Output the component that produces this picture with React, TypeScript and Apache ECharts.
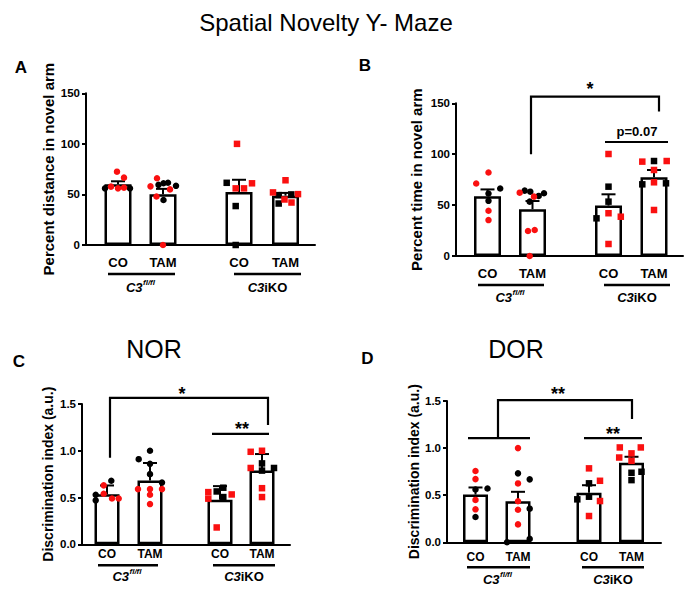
import { useEffect, useRef } from "react";
import * as echarts from "echarts";

const FONT = "'Liberation Sans', Arial, Helvetica, sans-serif";
const RED = "#fa1010";
const INK = "#000000";

const groupNames = ["CO", "TAM", "CO", "TAM"];

// A: percent distance travelled in the novel arm (mean, SEM, individual animals)
const distMean = [60, 50.3, 52.3, 48.8];
const distSem = [3, 5.2, 12.2, 2.7];
const distRed = [[72.5, 66.6, 57.7, 56, 56.7], [66, 58, 55, 48, 0], [100, 56, 56, 61], [64, 52, 50.3, 45, 42]];
const distBlack = [[56, 56], [59.5, 61, 61.5, 58.5, 44.5], [61.5, 38.5, 0], [49.3, 50, 41]];

// B: percent time spent in the novel arm
const timeMean = [58.8, 46, 49.5, 77.3];
const timeSem = [6.6, 8, 11.1, 7.2];
const timeRed = [[82, 71.2, 44.4, 35.3], [62.2, 58.3, 24.6, 25.5, 0], [100.2, 42, 38.6, 11.8], [92.7, 93.3, 84.5, 72.4, 45.2]];
const timeBlack = [[66.3, 61.4, 54.2], [64.2, 63.2, 59, 61.6, 53.4], [68.1, 53.4, 37], [93.3, 70.4, 71.4]];

// C: novel object recognition, discrimination index
const norMean = [0.534, 0.682, 0.477, 0.79];
const norSem = [0.095, 0.187, 0.145, 0.175];
const norRed = [[0.63, 0.54, 0.49, 0.49], [0.59, 0.59, 0.59, 0.53, 0.43], [0.558, 0.533, 0.488, 0.18], [0.989, 1.0, 0.816, 0.6, 0.505]];
const norBlack = [[0.68, 0.53, 0.47], [1.0, 0.91, 0.86, 0.75, 0.66], [0.565, 0.605, 0.505], [0.865, 0.788, 0.816]];

// D: displaced object recognition, discrimination index
const dorMean = [0.507, 0.436, 0.526, 0.845];
const dorSem = [0.075, 0.1, 0.08, 0.063];
const dorRed = [[0.757, 0.671, 0.45, 0.35], [1.0, 0.625, 0.436, 0.346, 0.19], [0.785, 0.653, 0.438, 0.279], [1.007, 1.007, 0.944, 0.9, 0.865]];
const dorBlack = [[0.56, 0.571, 0.268], [0.732, 0.668, 0.357, 0, 0.036], [0.626, 0.456, 0.484], [0.738, 0.66, 0.749]];

// horizontal scatter of the dots around each bar centre, in pixels
const distRedDx = [[-1, 6, -7, 0, 6], [-6, -12.5, 7, -6.5, 0], [-2, -3.3, 5, 13], [0, -12.5, 12.5, -1, 6]];
const distBlackDx = [[-13, 12], [-4.5, 0.5, 5, 13, 0.5], [-12.3, -3.3, -3.3], [-6.8, 5.8, -6.8]];
const timeRedDx = [[1, -11.3, 1, 1], [-12.8, 1.5, -4.5, 2.2, -2.8], [0, 0, 12.3, 0], [-11.7, 12.7, 0, 0, 0]];
const timeBlackDx = [[12.7, 1, 1], [-7.8, -2.2, 6.2, 11.5, -2.8], [0, 0, -12], [0, -11.7, 12]];
const norRedDx = [[-3.3, -3.3, 5, 11.7], [-12, 0, 12, 0, 0], [-11.7, 11.7, -11.7, -3.3], [-11.3, 0, -11.3, 0, 0]];
const norBlackDx = [[4.3, -11.3, -11.3], [0, -11.3, 0, 0, 12], [-3.3, 3.3, 3.3], [0, 0, 12]];
const dorRedDx = [[0, 0, 0, 0], [0, 0, 0, 0, 0], [0, 11, 11, 0], [-11.7, 9.3, 0, -12.3, 0]];
const dorBlackDx = [[0, 12, 0], [0, 11.7, 11.7, -11, 11.7], [0, -11.7, 0], [0, 0, 10]];

type Mark =
  | { kind: "line"; pts: [number, number][] }
  | { kind: "text"; x: number; y: number; text: string; size: number };

type Panel = {
  grid: { left: number; top: number; width: number; height: number };
  xMax: number;
  xs: number[];
  barW: number;
  yMax: number;
  yStep: number;
  dec: number;
  yName: string;
  nameGap: number;
  nameSize: number;
  tickSize: number;
  labSize: number;
  mean: number[];
  sem: number[];
  red: number[][];
  black: number[][];
  redDx: number[][];
  blackDx: number[][];
  labDy: number;
  lineDy: number;
  genoDy: number;
  spans: [number, number][];
  marks: Mark[];
};

const panels: Panel[] = [
  {
    grid: { left: 86, top: 93.3, width: 229, height: 151.7 },
    xMax: 229, xs: [32, 77, 153, 199.5], barW: 27,
    yMax: 150, yStep: 50, dec: 0,
    yName: "Percent distance in novel arm", nameGap: 30, nameSize: 15, tickSize: 11.5, labSize: 13,
    mean: distMean, sem: distSem, red: distRed, black: distBlack, redDx: distRedDx, blackDx: distBlackDx,
    labDy: 17, lineDy: 29, genoDy: 42,
    spans: [[22, 89], [148, 215]],
    marks: [],
  },
  {
    grid: { left: 456, top: 103.3, width: 227, height: 152.7 },
    xMax: 227, xs: [31.5, 76.5, 152.5, 198], barW: 27,
    yMax: 150, yStep: 50, dec: 0,
    yName: "Percent time in novel arm", nameGap: 32, nameSize: 15, tickSize: 11.5, labSize: 13,
    mean: timeMean, sem: timeSem, red: timeRed, black: timeBlack, redDx: timeRedDx, blackDx: timeBlackDx,
    labDy: 17, lineDy: 29, genoDy: 41,
    spans: [[22, 88], [148, 214]],
    marks: [
      { kind: "line", pts: [[75, 100], [75, 156.5], [203, 156.5], [203, 142]] },
      { kind: "text", x: 134, y: 164, text: "*", size: 18 },
      { kind: "line", pts: [[149, 112], [212, 112]] },
      { kind: "text", x: 181, y: 122.7, text: "p=0.07", size: 13 },
    ],
  },
  {
    grid: { left: 82, top: 404, width: 208, height: 140.3 },
    xMax: 208, xs: [25, 68, 138, 180], barW: 25,
    yMax: 1.5, yStep: 0.5, dec: 1,
    yName: "Discrimination index (a.u.)", nameGap: 27, nameSize: 14, tickSize: 11.5, labSize: 12,
    mean: norMean, sem: norSem, red: norRed, black: norBlack, redDx: norRedDx, blackDx: norBlackDx,
    labDy: 10, lineDy: 21, genoDy: 32,
    spans: [[16, 76], [131, 193]],
    marks: [
      { kind: "line", pts: [[28, 0.926], [28, 1.565], [186, 1.565], [186, 1.276]] },
      { kind: "text", x: 100, y: 1.607, text: "*", size: 18 },
      { kind: "line", pts: [[130, 1.18], [187, 1.18]] },
      { kind: "text", x: 160, y: 1.233, text: "**", size: 18 },
    ],
  },
  {
    grid: { left: 447, top: 401, width: 214, height: 141.3 },
    xMax: 214, xs: [28.5, 71, 142, 184.5], barW: 25,
    yMax: 1.5, yStep: 0.5, dec: 1,
    yName: "Discrimination index (a.u.)", nameGap: 24, nameSize: 14, tickSize: 11.5, labSize: 12,
    mean: dorMean, sem: dorSem, red: dorRed, black: dorBlack, redDx: dorRedDx, blackDx: dorBlackDx,
    labDy: 15, lineDy: 25, genoDy: 37,
    spans: [[20, 83], [135, 197]],
    marks: [
      { kind: "line", pts: [[21, 1.106], [83, 1.106]] },
      { kind: "line", pts: [[51, 1.106], [51, 1.509], [185, 1.509], [185, 1.31]] },
      { kind: "text", x: 111, y: 1.573, text: "**", size: 18 },
      { kind: "line", pts: [[137, 1.106], [195, 1.106]] },
      { kind: "text", x: 166, y: 1.148, text: "**", size: 18 },
    ],
  },
];

const txt = (x: number, y: number, text: string, font: string, align = "center", vAlign = "middle") => ({
  type: "text",
  style: { text, x, y, font, fill: INK, align, verticalAlign: vAlign, textAlign: align, textVerticalAlign: vAlign },
  silent: true,
});

const annotate = (p: Panel) => (_params: any, api: any) => {
  const at = (x: number, y: number) => api.coord([x, y]);
  const base = at(0, 0)[1];
  const children: any[] = [];
  const poly = (pts: number[][], w: number) => ({
    type: "polyline",
    shape: { points: pts },
    style: { stroke: INK, lineWidth: w, fill: null },
    silent: true,
  });
  p.xs.forEach((x, i) => {
    children.push(txt(at(x, 0)[0], base + p.labDy, groupNames[i], `bold ${p.labSize}px ${FONT}`));
  });
  p.spans.forEach(([a, b], i) => {
    const xa = at(a, 0)[0];
    const xb = at(b, 0)[0];
    const ly = base + p.lineDy;
    children.push(poly([[xa, ly], [xb, ly]], 2.5));
    const cx = (xa + xb) / 2;
    const gy = base + p.genoDy;
    if (i === 0) {
      children.push(txt(cx + 1, gy, "C3", `italic bold 13px ${FONT}`, "right"));
      children.push(txt(cx + 1.5, gy - 5, "fl/fl", `italic bold 8px ${FONT}`, "left"));
    } else {
      children.push({
        type: "text",
        silent: true,
        style: {
          text: "{i|C3}{n|iKO}",
          x: cx,
          y: gy,
          align: "center",
          verticalAlign: "middle",
          textAlign: "center",
          textVerticalAlign: "middle",
          fill: INK,
          rich: {
            i: { fontStyle: "italic", fontWeight: "bold", fontSize: 13, fontFamily: FONT, fill: INK, color: INK },
            n: { fontWeight: "bold", fontSize: 13, fontFamily: FONT, fill: INK, color: INK },
          },
        },
      });
    }
  });
  p.marks.forEach((m) => {
    if (m.kind === "line") {
      children.push(poly(m.pts.map(([x, y]) => at(x, y)), 2.2));
    } else {
      const c = at(m.x, m.y);
      children.push(txt(c[0], c[1], m.text, `bold ${m.size}px ${FONT}`));
    }
  });
  return { type: "group", children };
};

const errorBars = () => (_params: any, api: any) => {
  const x = api.value(0);
  const m = api.value(1);
  const s = api.value(2);
  const b = api.coord([x, m]);
  const t = api.coord([x, m + s]);
  return {
    type: "group",
    children: [
      { type: "line", shape: { x1: b[0], y1: b[1], x2: t[0], y2: t[1] }, style: { stroke: INK, lineWidth: 2 } },
      { type: "line", shape: { x1: t[0] - 7, y1: t[1], x2: t[0] + 7, y2: t[1] }, style: { stroke: INK, lineWidth: 2 } },
    ],
  };
};

function buildOption() {
  const series: any[] = [];
  panels.forEach((p, i) => {
    series.push({
      type: "bar",
      xAxisIndex: i,
      yAxisIndex: i,
      barWidth: p.barW,
      data: p.mean.map((m, g) => [p.xs[g], m]),
      itemStyle: { color: "#ffffff", borderColor: INK, borderWidth: 2.5 },
      silent: true,
      z: 2,
    });
    series.push({
      type: "custom",
      xAxisIndex: i,
      yAxisIndex: i,
      renderItem: errorBars(),
      data: p.mean.map((m, g) => [p.xs[g], m, p.sem[g]]),
      silent: true,
      z: 3,
    });
    const dots: any[] = [];
    p.mean.forEach((_m, g) => {
      const symbol = g < 2 ? "circle" : "rect";
      p.black[g].forEach((v, k) => {
        dots.push({ value: [p.xs[g] + p.blackDx[g][k], v], symbol, itemStyle: { color: INK, opacity: 1 } });
      });
      p.red[g].forEach((v, k) => {
        dots.push({ value: [p.xs[g] + p.redDx[g][k], v], symbol, itemStyle: { color: RED, opacity: 1 } });
      });
    });
    series.push({
      type: "scatter",
      xAxisIndex: i,
      yAxisIndex: i,
      symbolSize: 6.5,
      itemStyle: { opacity: 1 },
      data: dots,
      silent: true,
      z: 4,
    });
    series.push({
      type: "custom",
      xAxisIndex: i,
      yAxisIndex: i,
      renderItem: annotate(p),
      data: [[0, 0]],
      clip: false,
      silent: true,
      z: 5,
    });
  });

  return {
    animation: false,
    backgroundColor: "#ffffff",
    grid: panels.map((p) => ({ ...p.grid, containLabel: false })),
    xAxis: panels.map((p, i) => ({
      type: "value",
      gridIndex: i,
      min: 0,
      max: p.xMax,
      axisLine: { show: true, onZero: false, lineStyle: { color: INK, width: 2 } },
      axisTick: { show: false },
      axisLabel: { show: false },
      splitLine: { show: false },
    })),
    yAxis: panels.map((p, i) => ({
      type: "value",
      gridIndex: i,
      min: 0,
      max: p.yMax,
      interval: p.yStep,
      name: p.yName,
      nameLocation: "middle",
      nameRotate: 90,
      nameGap: p.nameGap,
      nameTextStyle: { color: INK, fontWeight: "bold", fontSize: p.nameSize, fontFamily: FONT },
      axisLine: { show: true, lineStyle: { color: INK, width: 2 } },
      axisTick: { show: true, length: 4, lineStyle: { color: INK, width: 2 } },
      axisLabel: {
        color: INK,
        fontWeight: "bold",
        fontSize: p.tickSize,
        fontFamily: FONT,
        margin: 6,
        formatter: (v: number) => v.toFixed(p.dec),
      },
      splitLine: { show: false },
    })),
    series,
    graphic: [
      txt(326, 22, "Spatial Novelty Y- Maze", `24px ${FONT}`),
      txt(154, 349, "NOR", `25px ${FONT}`),
      txt(516, 349, "DOR", `25px ${FONT}`),
      txt(21, 67, "A", `bold 17px ${FONT}`),
      txt(365, 65.5, "B", `bold 17px ${FONT}`),
      txt(19, 361, "C", `bold 17px ${FONT}`),
      txt(367.5, 358.5, "D", `bold 17px ${FONT}`),
    ],
  };
}

export default function App() {
  const ref = useRef<HTMLDivElement>(null);
  useEffect(() => {
    if (!ref.current) return;
    const chart = echarts.init(ref.current, undefined, { renderer: "svg" });
    chart.setOption(buildOption() as any);
    return () => chart.dispose();
  }, []);
  return (
    <div
      ref={ref}
      style={{ position: "absolute", left: 0, top: 0, width: 700, height: 598, background: "#ffffff" }}
    />
  );
}
